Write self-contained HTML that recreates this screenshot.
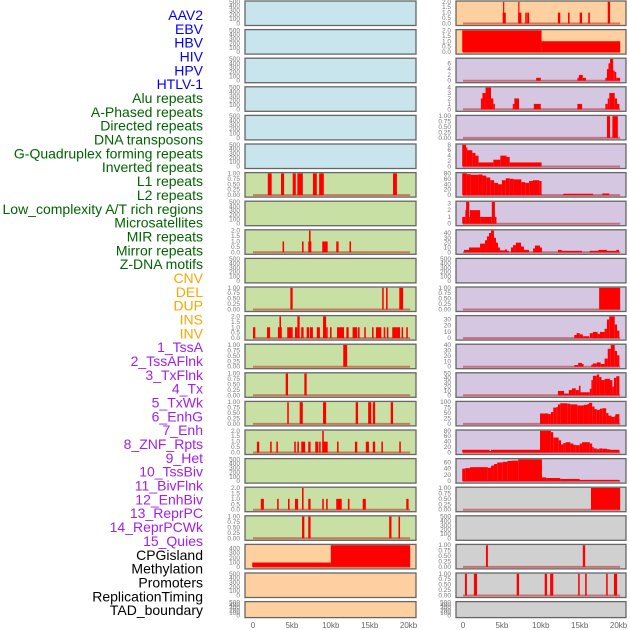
<!DOCTYPE html>
<html><head><meta charset="utf-8"><style>
html,body{margin:0;padding:0;background:#fff;}
svg{display:block;font-family:"Liberation Sans",sans-serif;}
</style></head><body>
<svg id="chart" width="630" height="630" viewBox="0 0 630 630" xmlns="http://www.w3.org/2000/svg">
<g id="labels"></g>
<g id="panels"></g>
<g id="xaxis"></g>
</svg>
<script>
// ---- data ----
const trackNames = ["AAV2","EBV","HBV","HIV","HPV","HTLV-1","Alu repeats","A-Phased repeats","Directed repeats","DNA transposons","G-Quadruplex forming repeats","Inverted repeats","L1 repeats","L2 repeats","Low_complexity A/T rich regions","Microsatellites","MIR repeats","Mirror repeats","Z-DNA motifs","CNV","DEL","DUP","INS","INV","1_TssA","2_TssAFlnk","3_TxFlnk","4_Tx","5_TxWk","6_EnhG","7_Enh","8_ZNF_Rpts","9_Het","10_TssBiv","11_BivFlnk","12_EnhBiv","13_ReprPC","14_ReprPCWk","15_Quies","CPGisland","Methylation","Promoters","ReplicationTiming","TAD_boundary"];
const trackGroups = ["virus","virus","virus","virus","virus","virus","repeat","repeat","repeat","repeat","repeat","repeat","repeat","repeat","repeat","repeat","repeat","repeat","repeat","sv","sv","sv","sv","sv","chrom","chrom","chrom","chrom","chrom","chrom","chrom","chrom","chrom","chrom","chrom","chrom","chrom","chrom","chrom","other","other","other","other","other"];
const xTickLabels = ["0","5kb","10kb","15kb","20kb"];
const xTickValues = [0,5,10,15,20];

const ticksEmpty = ["0","100","200","300","400","500"];
const ticks01 = ["0.00","0.25","0.50","0.75","1.00"];
const ticks02 = ["0.0","0.5","1.0","1.5","2.0"];

// segments: [startKb, endKb, value]
const segAlu = [[1.9,2.4,1],[3.6,4.0,1],[5.1,5.5,1],[5.7,6.4,1],[7.7,8.2,1],[8.5,9.1,1],[18.0,18.5,1]];
const segDirected = [[3.8,4.0,1],[6.3,6.5,1],[7.1,7.5,1],[7.2,7.4,2],[8.9,9.6,1],[10.7,11.0,1],[12.4,12.6,1]];
const segGQuad = [[4.8,5.1,1],[16.6,16.8,1],[17.1,17.3,1],[18.8,19.3,1]];
const segInverted = [[0,0.3,1],[1.8,2.2,1],[3.2,3.7,1],[3.4,3.6,2],[4.4,5.1,1],[5.4,5.7,1],[5.7,6.0,2],[6.2,6.5,1],[6.9,7.2,1],[7.3,7.7,1],[8.2,8.6,1],[9.0,9.4,2],[9.4,9.6,1],[9.9,10.1,1],[10.8,11.7,1],[12.0,12.3,1],[12.8,13.4,1],[13.5,13.7,1],[14.3,14.5,1],[15.3,15.5,1],[15.8,16.5,1],[16.8,17.0,1],[17.2,17.4,1],[17.9,18.9,1],[19.1,19.3,1],[19.7,19.9,1]];
const segL1 = [[11.6,12.1,1]];
const segL2 = [[4.2,4.5,1],[6.6,6.9,1]];
const segLowComplex = [[4.4,4.6,1],[6.0,6.4,1],[9.0,9.4,1],[13.2,13.5,1],[14.8,15.2,1],[15.4,15.7,1],[17.7,18.0,1]];
const segMicrosat = [[0.5,0.8,1],[2.2,2.4,1],[3.0,3.2,1],[5.3,5.5,1],[5.7,5.9,1],[6.2,6.7,1],[7.1,7.4,1],[8.0,8.4,1],[8.5,8.7,1],[8.9,9.6,1],[8.9,9.1,2],[10.8,11.0,1],[13.1,13.4,1],[14.5,14.9,1],[15.4,15.7,1],[16.5,16.7,1],[18.8,19.0,1]];
const segMirror = [[1.0,1.4,1],[3.1,3.3,1],[4.5,4.7,1],[5.4,5.8,1],[6.3,6.5,2],[7.1,7.4,1],[8.9,9.1,1],[9.4,9.6,1],[10.7,11.4,1],[12.2,12.4,1],[14.1,14.5,1],[19.7,20.0,1]];
const segZDNA = [[6.3,6.6,1],[7.1,7.4,1],[17.5,17.8,1],[18.7,18.9,1]];
const segCNV = [[-0.1,10,95],[10,20.2,475]];
const segINS = [[5.1,5.5,1],[5.15,5.3,2],[7.1,7.5,1],[7.1,7.25,2],[8.0,8.2,1],[8.25,8.5,1],[12.2,12.5,1],[13.5,13.7,1],[15.0,15.3,1],[16.1,16.3,1],[18.6,18.9,2]];
const segINV = [[-0.1,10.1,2],[10.1,20.2,1]];
const segTssA = [[9.4,10.0,1],[14.7,14.9,1],[14.9,15.4,2],[15.4,15.8,1],[18.3,18.5,1],[18.5,18.7,4],[18.7,18.9,6],[18.9,19.3,7.5],[19.3,19.5,3.5],[19.5,19.7,3],[19.7,20.2,1]];
const segTssAFlnk = [[2.3,2.5,2],[2.5,2.9,3],[2.9,3.6,4],[3.6,3.9,2],[3.9,4.1,1],[6.4,6.6,1],[6.6,7.2,2],[9.1,10.0,1],[14.7,15.3,1],[18.3,18.6,1],[18.6,18.8,2],[18.8,19.5,3],[19.5,19.8,2],[19.8,20.1,1]];
const segTxFlnk = [[18.5,18.9,1],[19.2,19.9,1]];
const segTx = [[-0.1,0.4,8],[0.4,0.5,7],[0.5,1.2,6],[1.2,1.6,5],[1.6,2.0,4],[2.0,3.9,1.5],[3.9,4.8,2.5],[4.8,5.6,4],[5.6,6.0,3.5],[6.0,10.1,1.5]];
const segTxWk = [[-0.1,0.5,80],[0.5,1.0,77],[1.0,2.0,75],[2.0,2.5,76],[2.5,3.0,72],[3.0,3.5,65],[3.5,4.0,55],[4.0,4.5,45],[4.5,5.0,40],[5.0,5.5,55],[5.5,6.0,62],[6.0,6.5,60],[6.5,7.5,58],[7.5,8.0,48],[8.0,8.5,45],[8.5,9.0,52],[9.0,9.8,55],[9.8,10.1,52],[12.9,16.7,5],[17.9,18.8,6]];
const segEnhG = [[-0.1,0.3,1],[0.3,0.4,2],[0.4,0.8,3.2],[0.8,0.9,1],[0.9,2.2,2],[2.2,3.7,1],[3.7,4.1,3.2],[4.1,4.3,1]];
const segEnh = [[0.13,0.77,5],[0.77,2.19,10],[2.19,2.83,18],[2.83,3.08,25],[3.08,3.34,33],[3.34,3.6,40],[3.6,3.98,45],[3.98,4.24,30],[4.24,4.5,20],[4.5,4.76,10],[4.76,5.4,4],[5.4,5.66,6],[5.66,5.9,3],[6.17,6.43,10],[6.43,6.8,15],[6.8,7.46,20],[7.46,7.84,12],[7.84,8.48,5],[9.0,9.25,8],[9.25,9.9,14],[9.9,10.15,10],[12.2,12.7,5],[12.7,15.3,3],[16.3,17.4,3],[17.4,18.5,5],[18.5,19.7,3],[19.7,20.05,5]];
const segHet = [[17.5,20.2,1]];
const segTssBiv = [[14.3,14.6,5],[14.6,15.0,8],[15.0,15.4,6],[15.4,16.2,3],[16.3,16.7,8],[16.7,17.3,10],[17.3,17.6,7],[17.6,18.2,10],[18.2,18.5,15],[18.5,18.8,30],[18.8,19.5,35],[19.5,19.8,22],[19.8,20.1,12]];
const segBivFlnk = [[14.3,14.8,3],[14.8,15.3,7],[15.3,15.5,5],[16.5,16.7,4],[16.7,17.2,6],[17.2,17.7,8],[17.7,18.2,5],[18.2,18.6,15],[18.6,19.0,33],[19.0,19.5,40],[19.5,19.8,29],[19.8,20.1,21]];
const segEnhBiv = [[12.2,13.0,10],[13.0,13.6,4],[13.6,14.0,12],[14.0,14.5,16],[14.5,14.9,12],[14.9,15.1,22],[15.1,16.3,7],[16.3,16.5,15],[16.5,16.7,35],[16.7,17.2,45],[17.2,17.5,48],[17.5,17.8,42],[17.8,18.2,35],[18.2,18.9,38],[18.9,19.2,35],[19.2,19.4,20],[19.4,19.7,40],[19.7,20.1,44]];
const segReprPC = [[9.9,11.0,48],[11.0,11.3,45],[11.3,11.6,55],[11.6,12.0,75],[12.0,12.2,78],[12.2,12.5,90],[12.5,13.4,95],[13.4,13.8,93],[13.8,14.7,90],[14.7,15.5,85],[15.5,16.0,88],[16.0,16.2,92],[16.2,16.6,97],[16.6,16.9,80],[16.9,17.2,68],[17.2,17.6,65],[17.6,17.9,70],[17.9,18.4,72],[18.4,18.7,50],[18.7,19.1,38],[19.1,19.5,32],[19.5,19.6,38],[19.6,20.1,45]];
const segReprPCWk = [[-0.1,3.4,10],[3.4,3.6,6],[3.6,9.9,10],[9.9,11.3,80],[11.3,11.6,75],[11.6,12.3,55],[12.3,12.6,45],[12.6,12.9,30],[12.9,13.2,35],[13.2,13.8,38],[13.8,14.2,33],[14.2,14.5,28],[14.5,15.0,27],[15.0,15.3,33],[15.3,16.3,38],[16.3,16.6,33],[16.6,16.8,20],[16.8,17.2,15],[17.2,17.5,12],[17.5,17.9,15],[17.9,18.5,14],[18.5,18.9,12],[18.9,20.1,10]];
const segQuies = [[-0.1,0.3,40],[0.3,0.9,42],[0.9,3.2,45],[3.2,3.6,43],[3.6,3.98,50],[3.98,4.4,55],[4.4,5.1,60],[5.1,5.7,62],[5.7,6.3,65],[6.3,7.1,66],[7.1,10.15,70],[10.15,10.7,12],[10.7,12.5,10],[12.5,15.0,7],[15.0,20.1,4]];
const segCPG = [[16.45,20.2,1]];
const segPromoters = [[2.95,3.2,1],[15.4,15.7,1]];
const segReplTiming = [[0.25,0.5,1],[1.4,1.8,1],[6.9,7.2,1],[10.5,10.8,1],[11.2,11.6,1],[14.8,15.0,1],[15.7,15.9,1],[18.4,18.6,1],[19.4,19.8,1]];

// per-track: segments, tick labels, y max
const trackSegs = [null,null,null,null,null,null,segAlu,null,segDirected,null,segGQuad,segInverted,segL1,segL2,segLowComplex,segMicrosat,null,segMirror,segZDNA,segCNV,null,null,segINS,segINV,segTssA,segTssAFlnk,segTxFlnk,segTx,segTxWk,segEnhG,segEnh,null,segHet,segTssBiv,segBivFlnk,segEnhBiv,segReprPC,segReprPCWk,segQuies,segCPG,null,segPromoters,segReplTiming,null];
const trackTicks = [ticksEmpty,ticksEmpty,ticksEmpty,ticksEmpty,ticksEmpty,ticksEmpty,ticks01,ticksEmpty,ticks02,ticksEmpty,ticks01,ticks02,ticks01,ticks01,ticks01,ticks02,ticksEmpty,ticks02,ticks01,["0","100","200","300","400"],ticksEmpty,ticksEmpty,ticks02,ticks02,["0","2","4","6"],["0","1","2","3","4"],ticks01,["0","2","4","6","8"],["0","20","40","60","80"],["0","1","2","3"],["0","10","20","30","40"],ticksEmpty,ticks01,["0","10","20","30"],["0","10","20","30","40"],["0","10","20","30","40","50"],["0","25","50","75","100"],["0","20","40","60","80"],["0","20","40","60"],ticks01,ticksEmpty,ticks01,ticks01,ticksEmpty];
const trackMax = [500,500,500,500,500,500,1,500,2,500,1,2,1,1,1,2,500,2,1,475,500,500,2,2,7.5,4,1,8,80,3.2,45,500,1,35,40,50,100,80,70,1,500,1,1,500];

// ---- rendering ----
const NS = "http://www.w3.org/2000/svg";
const groupColor = {virus:"#0000ff",repeat:"#006400",sv:"#ffa500",chrom:"#a020f0",other:"#000000"};
const bgColor = {virus:"#c8e4ec",repeat:"#c8e0a4",sv:"#fed0a0",chrom:"#d5c6e2",other:"#d0d0d0"};
function mk(tag, attrs, parent){const e=document.createElementNS(NS,tag);for(const k in attrs)e.setAttribute(k,attrs[k]);parent.appendChild(e);return e;}

const labelsG = document.getElementById('labels');
trackNames.forEach((n,i)=>{
  const t = mk('text',{x:203,y:(20+13.84*i).toFixed(1),'text-anchor':'end','font-size':14,fill:groupColor[trackGroups[i]]},labelsG);
  
  
  t.textContent = n;
});

const cols = [{x0:245,x1:416,z:253,tickX:240},{x0:456,x1:626,z:463,tickX:451}];
const kbPx = 7.78;
const panelsG = document.getElementById('panels');
for(let i=0;i<44;i++){
  const col = cols[i<22?0:1];
  const row = i%22;
  const top = 1+28.6*row;
  const h = row===21?16:24.5;
  const bottom = top+h;
  const grp = trackGroups[i];
  const g = mk('g',{},panelsG);
  
  
  mk('rect',{x:col.x0,y:top,width:col.x1-col.x0,height:h,fill:bgColor[grp]},g);
  const y0 = bottom-2, yTop = top+0.8;
  const max = trackMax[i];
  const yS = v => y0-(v/max)*(y0-yTop);
  const xS = kb => col.z+kb*kbPx;
  // ticks
  const tk = trackTicks[i];
  tk.forEach(lbl=>{
    const v = parseFloat(lbl);
    const tt = mk('text',{x:col.tickX,y:(yS(v)+2).toFixed(1),'text-anchor':'end','font-size':6.5,fill:'#777'},g);
    
    
    tt.textContent = lbl;
  });
  const segs = trackSegs[i];
  if(segs){
    mk('line',{x1:xS(0),x2:xS(20.2),y1:y0,y2:y0,stroke:'rgba(190,0,0,0.45)','stroke-width':2},g);
    segs.forEach(s=>{
      const r = mk('rect',{x:xS(s[0]).toFixed(2),y:yS(s[2]).toFixed(2),width:Math.max(1.2,(s[1]-s[0])*kbPx).toFixed(2),height:(y0-yS(s[2])).toFixed(2),fill:'#ff0000'},g);
      
      
    });
  }
  mk('rect',{x:col.x0,y:top,width:col.x1-col.x0,height:h,fill:'none',stroke:'#666','stroke-width':1.3},g);
}

const xg = document.getElementById('xaxis');
cols.forEach(col=>{
  xTickValues.forEach((v,j)=>{
    const t = mk('text',{x:col.z+v*kbPx,y:628,'text-anchor':'middle','font-size':8,fill:'#666'},xg);
    
    
    t.textContent = xTickLabels[j];
  });
});
</script>
</body></html>
